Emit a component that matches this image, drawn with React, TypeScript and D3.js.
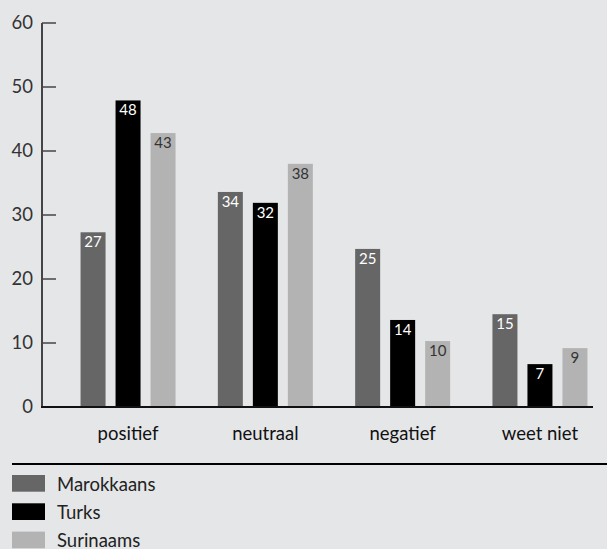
import React from "react";
import * as d3 from "d3";

const categories = ["positief", "neutraal", "negatief", "weet niet"];
const seriesNames = ["Marokkaans", "Turks", "Surinaams"];
const marokkaans = [27.3, 33.6, 24.7, 14.5];
const turks = [47.9, 31.9, 13.6, 6.7];
const surinaams = [42.8, 38.0, 10.3, 9.2];
const yTicks = [0, 10, 20, 30, 40, 50, 60];

const seriesValues = [marokkaans, turks, surinaams];
const colors = ["#666666", "#000000", "#b3b3b3"];
const labelColors = ["#ffffff", "#ffffff", "#333333"];

const W = 607;
const H = 549;
const FONT = "Lato, 'Open Sans', sans-serif";

export default function App() {
  const y = d3.scaleLinear().domain([0, 60]).range([407, 23]);
  const x0 = d3.scaleBand<string>().domain(categories).range([59.4, 608.6]);
  const x1 = d3
    .scaleBand<string>()
    .domain(seriesNames)
    .range([-47.5, 47.5])
    .paddingInner(2 / 7)
    .paddingOuter(0);

  return (
    <svg
      width={W}
      height={H}
      style={{ position: "absolute", left: 0, top: 0, background: "#e5e6e8" }}
      fontFamily={FONT}
    >
      <rect x={0} y={0} width={W} height={H} fill="#e5e6e8" />
      {categories.map((c, ci) => {
        const cx = (x0(c) as number) + x0.bandwidth() / 2;
        return (
          <g key={c}>
            {seriesNames.map((s, si) => {
              const v = seriesValues[si][ci];
              const bx = cx + (x1(s) as number);
              return (
                <g key={s}>
                  <rect
                    x={bx}
                    y={y(v)}
                    width={x1.bandwidth()}
                    height={y(0) - y(v)}
                    fill={colors[si]}
                  />
                  <text
                    x={bx + x1.bandwidth() / 2}
                    y={y(v) + 15}
                    textAnchor="middle"
                    fontSize={15}
                    fill={labelColors[si]}
                  >
                    {Math.round(v)}
                  </text>
                </g>
              );
            })}
            <text x={cx} y={440} textAnchor="middle" fontSize={18.5} fill="#111">
              {c}
            </text>
          </g>
        );
      })}
      <line x1={42} x2={42} y1={y(60)} y2={y(0)} stroke="#444" strokeWidth={2} />
      {yTicks.map((t) => (
        <g key={t}>
          <line x1={42} x2={56} y1={y(t)} y2={y(t)} stroke="#444" strokeWidth={1.5} />
          <text x={33} y={y(t) + 5.5} textAnchor="end" fontSize={18.5} fill="#333">
            {t}
          </text>
        </g>
      ))}
      <line x1={41} x2={593} y1={y(0)} y2={y(0)} stroke="#111" strokeWidth={2} />
      <line x1={12} x2={W} y1={464} y2={464} stroke="#000" strokeWidth={2} />
      {seriesNames.map((s, i) => (
        <g key={s} transform={`translate(12, ${475 + i * 28.3})`}>
          <rect x={0} y={0} width={33} height={16.7} fill={colors[i]} />
          <text x={45} y={15.5} fontSize={18.5} fill="#222">
            {s}
          </text>
        </g>
      ))}
    </svg>
  );
}
